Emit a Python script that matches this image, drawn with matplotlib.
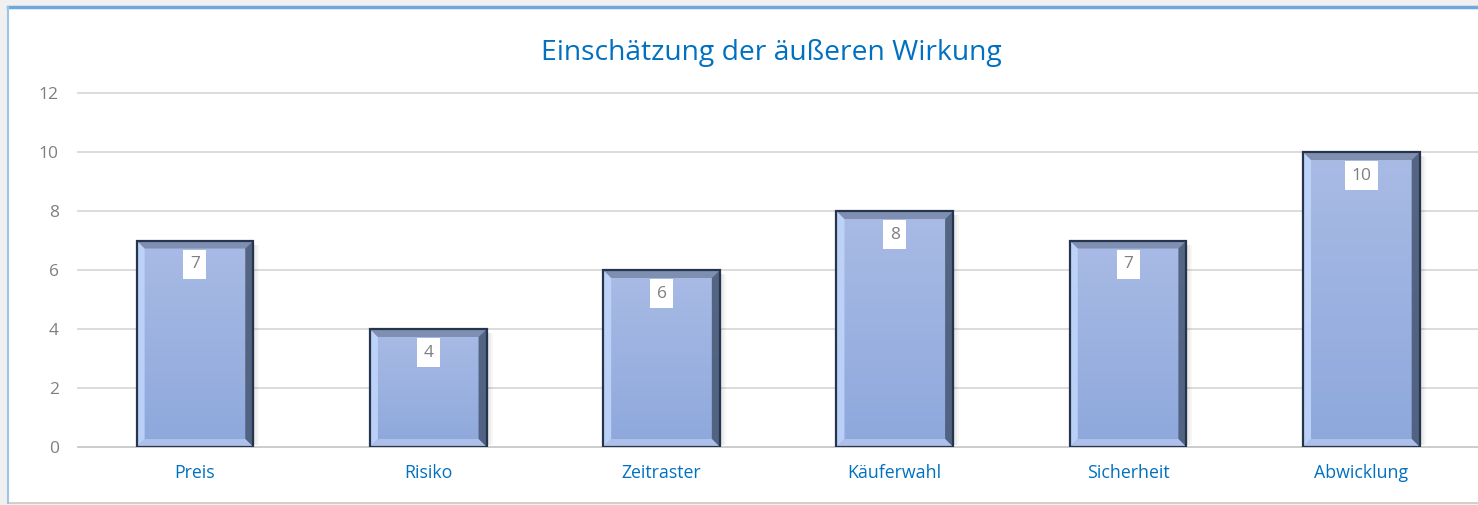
import matplotlib
matplotlib.use("Agg")
import matplotlib.pyplot as plt
import numpy as np
from matplotlib.patches import Polygon, Rectangle
from matplotlib.transforms import IdentityTransform
from matplotlib.colors import LinearSegmentedColormap

categories = ["Preis", "Risiko", "Zeitraster", "Käuferwahl", "Sicherheit", "Abwicklung"]
values = [7, 4, 6, 8, 7, 10]
yticks = [0, 2, 4, 6, 8, 10, 12]
title = "Einschätzung der äußeren Wirkung"

plt.rcParams['font.family'] = ['Open Sans', 'DejaVu Sans']

W, H = 1478, 505
fig = plt.figure(figsize=(W / 100, H / 100), dpi=100)
fig.patch.set_facecolor("#F0F0F0")

# chart frame
frame = Rectangle((7.5 / W, 2.5 / H), (W + 10) / W, (H - 9) / H, transform=fig.transFigure,
                  facecolor="white", edgecolor="#C8C8C8", linewidth=1.2, zorder=-5)
fig.patches.append(frame)
fig.add_artist(plt.Line2D([7.5 / W, 1], [(H - 6.5) / H] * 2, transform=fig.transFigure,
                          color="#6FA8DC", linewidth=2.5, zorder=-4))
fig.add_artist(plt.Line2D([7.5 / W] * 2, [2.5 / H, (H - 6.5) / H], transform=fig.transFigure,
                          color="#9FC3E6", linewidth=1.5, zorder=-4))

left, right = 78.3, 1478
bottom, top = 447, 93
ax = fig.add_axes([left / W, (H - bottom) / H, (right - left) / W, (bottom - top) / H])
ax.set_facecolor("none")
ax.set_xlim(-0.5, len(categories) - 0.5)
ax.set_ylim(0, 12)
ax.set_yticks(yticks)
ax.set_xticks(range(len(categories)))
ax.set_xticklabels(categories)
for s in ["top", "right", "left", "bottom"]:
    ax.spines[s].set_visible(False)
ax.tick_params(axis="both", length=0)
ax.tick_params(axis="y", pad=14, labelsize=12.5, labelcolor="#7F7F7F")
ax.tick_params(axis="x", pad=12, labelsize=12.8, labelcolor="#0070C0")
for t in yticks:
    ax.axhline(t, color="#D9D9D9" if t else "#C8C8C8", linewidth=1.3, zorder=0.5, clip_on=False)

fig.text(771 / W, (H - 53) / H, title, ha="center", va="center", fontsize=20.3, color="#0070C0")

bw = 0.5
grad = LinearSegmentedColormap.from_list("g", ["#8EA8DC", "#A9BBE5"])
gimg = np.linspace(0, 1, 256).reshape(-1, 1)
bev = 8
fig.canvas.draw()
for i, v in enumerate(values):
    bars = ax.bar(i, v, width=bw, color="#9DB3E1", edgecolor="none", zorder=2)
    b = bars[0]
    im = ax.imshow(gimg, cmap=grad, extent=(i - bw / 2, i + bw / 2, 0, v), origin="lower",
                   aspect="auto", zorder=2.1)
    im.set_clip_path(b)
    # pixel corners
    (x0, y0) = ax.transData.transform((i - bw / 2, 0))
    (x1, y1) = ax.transData.transform((i + bw / 2, v))
    ix0, ix1 = x0 + bev, x1 - bev
    iy0, iy1 = y0 + bev, y1 - bev
    polys = [
        ([(x0, y0), (x0, y1), (ix0, iy1), (ix0, iy0)], "#C2D7FB"),   # left
        ([(x0, y1), (x1, y1), (ix1, iy1), (ix0, iy1)], "#7888A8"),   # top
        ([(x1, y1), (x1, y0), (ix1, iy0), (ix1, iy1)], "#465672"),   # right
        ([(x0, y0), (x1, y0), (ix1, iy0), (ix0, iy0)], "#B3C5EC"),   # bottom
    ]
    for pts, c in polys:
        ax.add_patch(Polygon(pts, closed=True, transform=IdentityTransform(),
                             facecolor=c, edgecolor="none", zorder=2.2, alpha=0.85))
    # soft shadow on the right
    for k, a in enumerate([0.12, 0.07, 0.03]):
        ax.add_patch(Rectangle((x1 + k * 2, y0 + 2), 2, (y1 - y0) - 6, transform=IdentityTransform(),
                               facecolor="#000000", alpha=a, edgecolor="none", zorder=1.9))
    # outline
    ax.add_patch(Polygon([(x0, y0), (x0, y1), (x1, y1), (x1, y0)], closed=True,
                         transform=IdentityTransform(), facecolor="none",
                         edgecolor="#26344E", linewidth=1.6, zorder=2.3))
    ax.annotate(str(v), (i, v), xytext=(0, -17), textcoords="offset points",
                ha="center", va="center", fontsize=12.5, color="#7F7F7F", zorder=3,
                bbox=dict(boxstyle="square,pad=0.38", facecolor="white", edgecolor="none"))

fig.savefig("out.png", dpi=100, facecolor=fig.get_facecolor())
